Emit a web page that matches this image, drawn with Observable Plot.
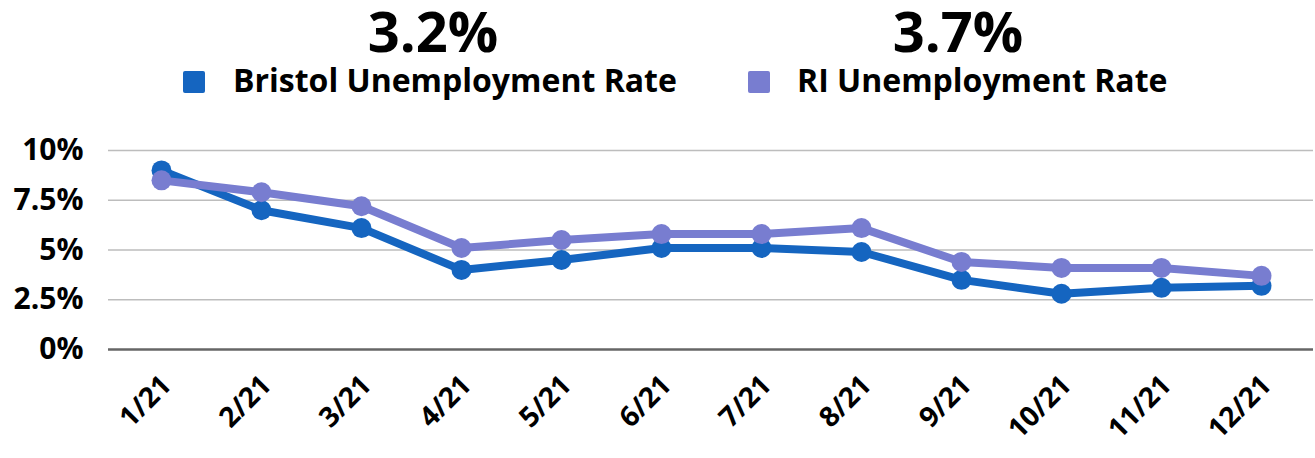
<!DOCTYPE html>
<html><head><meta charset="utf-8">
<script src="https://cdn.jsdelivr.net/npm/d3@7"></script>
<script src="https://cdn.jsdelivr.net/npm/@observablehq/plot@0.6"></script>
<style>
body{margin:0;background:#fff;font-family:"Open Sans",sans-serif;}
#wrap{position:relative;width:1315px;height:458px;overflow:hidden;}
.big{position:absolute;top:2px;font-weight:700;font-size:56px;line-height:56px;transform:translateX(-50%);white-space:nowrap;color:#000;}
.leg{position:absolute;top:64px;font-weight:700;font-size:32px;line-height:32px;white-space:nowrap;color:#000;}
.sw{position:absolute;top:71px;width:22px;height:22px;border-radius:2px;}
#chart{position:absolute;left:0;top:100px;}
</style></head>
<body><div id="wrap">
<div class="big" id="t1" style="left:433px"></div>
<div class="big" id="t2" style="left:958px"></div>
<div class="sw" id="s1" style="left:183px"></div><div class="leg" id="l1" style="left:233px"></div>
<div class="sw" id="s2" style="left:748px"></div><div class="leg" id="l2" style="left:797px"></div>
<div id="chart"></div>
</div>
<script>
const months = ["1/21","2/21","3/21","4/21","5/21","6/21","7/21","8/21","9/21","10/21","11/21","12/21"];
const bristol = [9.0, 7.0, 6.1, 4.0, 4.5, 5.1, 5.1, 4.9, 3.5, 2.8, 3.1, 3.2];
const ri = [8.5, 7.9, 7.2, 5.1, 5.5, 5.8, 5.8, 6.1, 4.4, 4.1, 4.1, 3.7];
const seriesNames = ["Bristol Unemployment Rate", "RI Unemployment Rate"];
const headline = ["3.2%", "3.7%"];
const colors = ["#1565c0", "#787dd0"];
const yTicks = [0, 2.5, 5, 7.5, 10];

document.getElementById("t1").textContent = headline[0];
document.getElementById("t2").textContent = headline[1];
document.getElementById("l1").textContent = seriesNames[0];
document.getElementById("l2").textContent = seriesNames[1];
document.getElementById("s1").style.background = colors[0];
document.getElementById("s2").style.background = colors[1];

const bData = months.map((m, i) => ({month: m, v: bristol[i]}));
const rData = months.map((m, i) => ({month: m, v: ri[i]}));

const chart = Plot.plot({
  width: 1315,
  height: 358,
  marginTop: 50,
  marginBottom: 109,
  marginLeft: 108,
  marginRight: 2,
  style: {fontFamily: "'Open Sans', sans-serif", background: "#fff", color: "#000"},
  x: {type: "point", domain: months, padding: 0.5},
  y: {domain: [0, 10]},
  marks: [
    Plot.ruleY(yTicks.filter(d => d > 0), {stroke: "#bdbdbd", strokeWidth: 1.5}),
    Plot.ruleY([0], {stroke: "#666", strokeWidth: 2.5}),
    Plot.axisY({ticks: yTicks, tickFormat: d => d + "%", tickSize: 0, tickPadding: 25, fontSize: 30, fontWeight: 700, label: null}),
    Plot.axisX({tickRotate: -45, tickSize: 0, tickPadding: 31, dx: 5, fontSize: 28, fontWeight: 700, label: null}),
    Plot.line(bData, {x: "month", y: "v", stroke: colors[0], strokeWidth: 8, strokeLinejoin: "round"}),
    Plot.dot(bData, {x: "month", y: "v", fill: colors[0], r: 10}),
    Plot.line(rData, {x: "month", y: "v", stroke: colors[1], strokeWidth: 8, strokeLinejoin: "round"}),
    Plot.dot(rData, {x: "month", y: "v", fill: colors[1], r: 10})
  ]
});
document.getElementById("chart").appendChild(chart);
</script>
</body></html>
